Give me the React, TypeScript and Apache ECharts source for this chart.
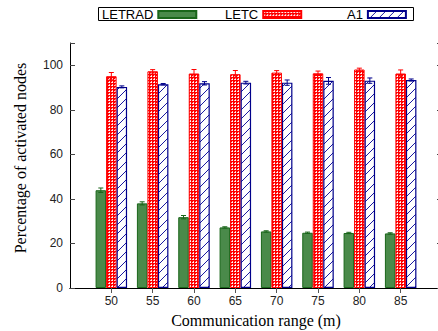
import React, { useEffect, useRef } from 'react';
import * as echarts from 'echarts';

const ranges = [50, 55, 60, 65, 70, 75, 80, 85];
const categories = ['45', ...ranges.map(String), '90'];
const yTicks = [0, 20, 40, 60, 80, 100];

const letrad = [43.9, 38.0, 31.8, 27.2, 25.4, 24.8, 24.7, 24.5];
const letradErr = [1.0, 0.7, 0.75, 0.3, 0.3, 0.3, 0.3, 0.3];
const letc = [95.1, 97.3, 96.3, 96.0, 96.7, 96.4, 98.1, 96.3];
const letcErr = [1.65, 0.75, 1.8, 1.65, 0.9, 1.0, 0.6, 1.6];
const a1 = [90.3, 91.5, 91.9, 92.2, 92.2, 93.0, 93.1, 93.4];
const a1Err = [0.45, 0.3, 0.75, 0.6, 1.2, 1.5, 1.2, 0.45];

const GREEN = '#4a8a4a';
const GREEN_DARK = '#1a661a';
const RED = '#ff0000';
const BLUE = '#00008b';

function checkerPattern() {
  const c = document.createElement('canvas');
  c.width = 3;
  c.height = 3;
  const ctx = c.getContext('2d')!;
  ctx.fillStyle = RED;
  ctx.fillRect(0, 0, 3, 3);
  ctx.fillStyle = '#ffffff';
  ctx.fillRect(1, 1, 1, 1);
  ctx.fillStyle = '#ffc8c8';
  ctx.fillRect(0, 1, 1, 1);
  ctx.fillRect(1, 0, 1, 1);
  return { image: c.toDataURL(), repeat: 'repeat', imageWidth: 3, imageHeight: 3 } as any;
}

function hatchPattern() {
  const s = 9;
  const c = document.createElement('canvas');
  c.width = s;
  c.height = s;
  const ctx = c.getContext('2d')!;
  ctx.fillStyle = '#ffffff';
  ctx.fillRect(0, 0, s, s);
  ctx.strokeStyle = '#1a1aa0';
  ctx.lineWidth = 1;
  for (const d of [-s, 0, s]) {
    ctx.beginPath();
    ctx.moveTo(0 + d, s);
    ctx.lineTo(s + d, 0);
    ctx.stroke();
  }
  return { image: c.toDataURL(), repeat: 'repeat', imageWidth: s, imageHeight: s } as any;
}

const BAR_W = 10.5;

function errSeries(name: string, vals: number[], errs: number[], offset: number, color: string) {
  return {
    type: 'custom',
    name,
    z: 5,
    silent: true,
    data: vals.map((v, i) => [i + 1, v, errs[i]]),
    renderItem: (_p: any, api: any) => {
      const idx = api.value(0);
      const v = api.value(1);
      const e = api.value(2);
      const top = api.coord([idx, v + e]);
      const bot = api.coord([idx, v - e]);
      const x = top[0] + offset;
      const cap = 2.5;
      const st = { stroke: color, lineWidth: 1 };
      return {
        type: 'group',
        children: [
          { type: 'line', shape: { x1: x, y1: top[1], x2: x, y2: bot[1] }, style: st },
          { type: 'line', shape: { x1: x - cap, y1: top[1], x2: x + cap, y2: top[1] }, style: st },
          { type: 'line', shape: { x1: x - cap, y1: bot[1], x2: x + cap, y2: bot[1] }, style: st },
        ],
      };
    },
  };
}

export default function App() {
  const ref = useRef<HTMLDivElement>(null);
  useEffect(() => {
    document.body.style.margin = '0';
    const chart = echarts.init(ref.current!, null, { renderer: 'svg' });
    const pad = (arr: number[]) => ['-', ...arr, '-'];
    const showIdx = (i: number) => i >= 1 && i <= ranges.length;
    const legendBase = {
      orient: 'horizontal',
      align: 'right',
      padding: 0,
      itemWidth: 38,
      itemHeight: 7,
      icon: 'rect',
      selectedMode: false,
      top: 8,
      textStyle: { fontSize: 13, fontFamily: 'Liberation Sans', color: '#000' },
    };
    chart.setOption({
      animation: false,
      grid: { left: 70, top: 43, width: 372, height: 245, outerBoundsMode: 'none', containLabel: false },
      legend: [
        { ...legendBase, data: ['LETRAD'], left: 102 },
        { ...legendBase, data: ['LETC'], left: 225 },
        { ...legendBase, data: ['A1'], left: 347 },
      ],
      graphic: [
        {
          type: 'rect',
          shape: { x: 98.5, y: 7.5, width: 315, height: 13 },
          style: { fill: 'none', stroke: '#000', lineWidth: 1 },
          z: 10,
        },
        {
          type: 'text',
          x: 20,
          y: 158,
          rotation: Math.PI / 2,
          style: {
            text: 'Percentage of activated nodes',
            font: '16px "Liberation Serif"',
            fill: '#000',
            textAlign: 'center',
            textVerticalAlign: 'middle',
          },
        },
      ],
      xAxis: [
        {
          type: 'category',
          data: categories,
          boundaryGap: false,
          position: 'bottom',
          axisLine: { lineStyle: { color: '#000', width: 1 } },
          axisTick: { show: false },
          axisLabel: {
            interval: (i: number) => showIdx(i),
            margin: 7,
            fontSize: 12,
            fontFamily: 'Liberation Sans',
            color: '#222',
          },
          name: 'Communication range (m)',
          nameLocation: 'middle',
          nameGap: 24,
          nameTextStyle: { fontSize: 16, fontFamily: 'Liberation Serif', color: '#000' },
        },
        {
          type: 'category',
          data: categories,
          boundaryGap: false,
          position: 'top',
          axisLine: { lineStyle: { color: '#000', width: 1 } },
          axisTick: {
            show: true,
            inside: true,
            length: 5,
            interval: (i: number) => showIdx(i),
            lineStyle: { color: '#555' },
          },
          axisLabel: { show: false },
        },
      ],
      yAxis: [
        {
          type: 'value',
          min: 0,
          max: 110,
          interval: 20,
          axisLine: { show: true, lineStyle: { color: '#000', width: 1 } },
          axisTick: { show: true, inside: true, length: 5, lineStyle: { color: '#444' } },
          splitLine: { show: false },
          axisLabel: {
            margin: 7,
            fontSize: 12,
            fontFamily: 'Liberation Sans',
            color: '#222',
            formatter: (v: number) => (yTicks.includes(v) ? String(v) : ''),
          },
        },
        {
          type: 'value',
          min: 0,
          max: 110,
          interval: 20,
          position: 'right',
          axisLine: { show: true, lineStyle: { color: '#000', width: 1 } },
          axisTick: { show: true, inside: true, length: 5, lineStyle: { color: '#444' } },
          splitLine: { show: false },
          axisLabel: { show: false },
        },
      ],
      series: [
        {
          type: 'bar',
          name: 'LETRAD',
          data: pad(letrad),
          barWidth: BAR_W,
          barGap: '0%',
          itemStyle: { color: GREEN, borderColor: GREEN_DARK, borderWidth: 1 },
        },
        {
          type: 'bar',
          name: 'LETC',
          data: pad(letc),
          barWidth: BAR_W,
          barGap: '0%',
          itemStyle: { color: checkerPattern(), borderColor: RED, borderWidth: 1 },
        },
        {
          type: 'bar',
          name: 'A1',
          data: pad(a1),
          barWidth: BAR_W,
          barGap: '0%',
          itemStyle: { color: hatchPattern(), borderColor: BLUE, borderWidth: 1.2 },
        },
        errSeries('LETRAD err', letrad, letradErr, -BAR_W, GREEN_DARK),
        errSeries('LETC err', letc, letcErr, 0, RED),
        errSeries('A1 err', a1, a1Err, BAR_W, BLUE),
      ],
    });
    return () => chart.dispose();
  }, []);
  return (
    <div
      ref={ref}
      style={{ position: 'absolute', left: 0, top: 0, width: 438, height: 331 }}
    />
  );
}
